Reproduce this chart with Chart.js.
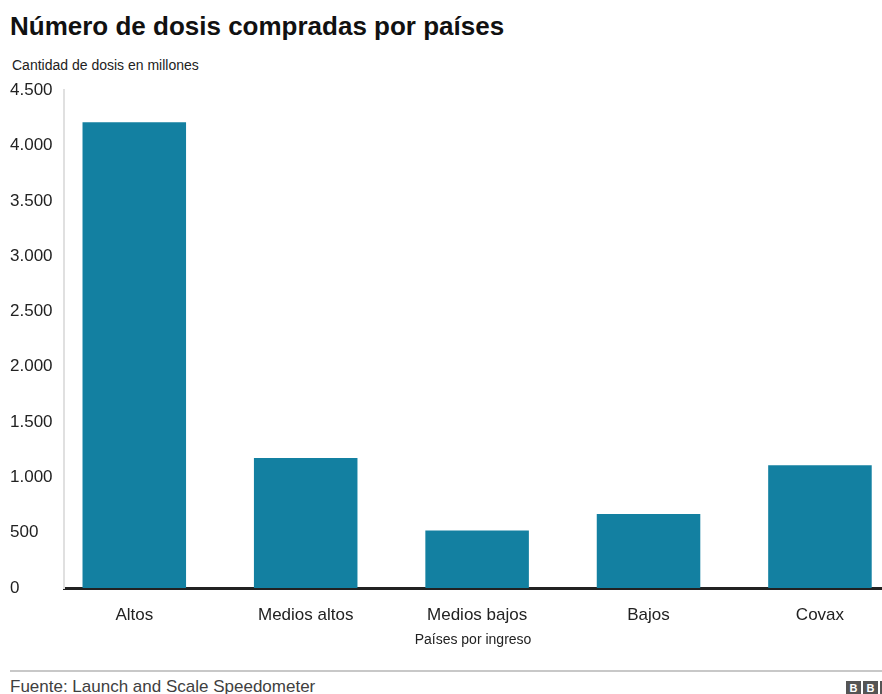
<!DOCTYPE html>
<html>
<head>
<meta charset="utf-8">
<script src="https://cdn.jsdelivr.net/npm/chart.js@4"></script>
<style>
  body { margin: 0; width: 882px; height: 694px; background: #fff; overflow: hidden; position: relative; font-family: "Liberation Sans", Arial, sans-serif; color: #222; }
  #title { position: absolute; left: 10px; top: 11px; font-size: 26px; font-weight: bold; color: #111; white-space: nowrap; }
  #subtitle { position: absolute; left: 12px; top: 57px; font-size: 14px; color: #222; white-space: nowrap; }
  #wrap { position: absolute; left: 0; top: 80px; width: 882px; height: 570px; }
  #rule { position: absolute; left: 10px; top: 670px; width: 872px; height: 2px; background: #c8c8c8; }
  #source { position: absolute; left: 10px; top: 677px; font-size: 17px; color: #404040; white-space: nowrap; }
  #logo { position: absolute; left: 846px; top: 681px; display: flex; gap: 2px; }
  #logo span { display: inline-block; width: 15px; height: 15px; background: #555; color: #fff; font-size: 11px; font-weight: bold; text-align: center; line-height: 15px; }
</style>
</head>
<body>
<div id="title">Número de dosis compradas por países</div>
<div id="subtitle">Cantidad de dosis en millones</div>
<div id="wrap"><canvas id="chart"></canvas></div>
<div id="rule"></div>
<div id="source">Fuente: Launch and Scale Speedometer</div>
<div id="logo"><span>B</span><span>B</span><span>C</span></div>

<script>
const categories = ["Altos", "Medios altos", "Medios bajos", "Bajos", "Covax"];
const doses = [4210, 1175, 520, 670, 1110];
const yTicks = [0, 500, 1000, 1500, 2000, 2500, 3000, 3500, 4000, 4500];

const fmt = v => v.toLocaleString("es-ES", { useGrouping: "always" }).replace(/\s/g, ".");

const ctx = document.getElementById("chart").getContext("2d");
new Chart(ctx, {
  type: "bar",
  data: {
    datasets: [{
      data: doses.map((v, i) => ({ x: i, y: v })),
      backgroundColor: "#1380a1",
      barPercentage: 0.604,
      categoryPercentage: 1
    }]
  },
  options: {
    responsive: true,
    maintainAspectRatio: false,
    animation: false,
    layout: { padding: { left: 10, right: 0, top: 10, bottom: 0 } },
    plugins: { legend: { display: false }, tooltip: { enabled: false } },
    scales: {
      x: {
        type: "linear",
        offset: false,
        min: -0.41,
        max: 4.362,
        afterBuildTicks: scale => { scale.ticks = categories.map((_, i) => ({ value: i })); },
        afterFit: scale => { scale.height = 62; },
        grid: { display: false, drawTicks: false },
        border: { display: true, color: "#222", width: 3 },
        ticks: {
          callback: v => categories[v],
          color: "#222",
          font: { family: "Liberation Sans", size: 17 },
          padding: 17,
          maxRotation: 0,
          autoSkip: false
        },
        title: {
          display: true,
          text: "Países por ingreso",
          color: "#222",
          font: { family: "Liberation Sans", size: 14 },
          padding: { top: 6, bottom: 1 }
        }
      },
      y: {
        min: 0,
        max: 4500,
        afterBuildTicks: scale => { scale.ticks = yTicks.map(v => ({ value: v })); },
        afterFit: scale => { scale.width = 54; },
        grid: { display: false, drawTicks: false },
        border: { display: true, color: "#e0e0e0", width: 2 },
        ticks: {
          callback: v => fmt(v),
          color: "#222",
          crossAlign: "far",
          font: { family: "Liberation Sans", size: 17 },
          padding: 0
        }
      }
    }
  }
});
</script>
</body>
</html>
